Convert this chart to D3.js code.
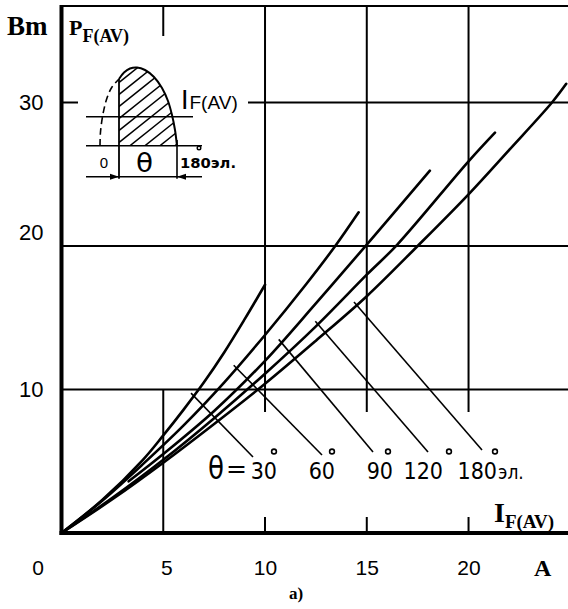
<!DOCTYPE html>
<html>
<head>
<meta charset="utf-8">
<script src="https://cdn.jsdelivr.net/npm/d3@7"></script>
<style>
  body { margin: 0; background: #fff; }
  svg { display: block; }
</style>
</head>
<body>
<svg id="chart" width="568" height="609"></svg>
<script>
// Average forward power loss P_F(AV) (W) vs. average forward current I_F(AV) (A)
// for several conduction angles θ (electrical degrees).
const angleLabels = ["30", "60", "90", "120", "180"];
const xTicks = [0, 5, 10, 15, 20];
const yTicks = [10, 20, 30];

// [I_F(AV), P_F(AV)]
const curve30  = [[0,0],[2,2.3],[4,5.1],[5,6.8],[6,8.6],[7,10.5],[8,12.6],[9,14.9],[10,17.3]];
const curve60  = [[0,0],[2,2.25],[4,4.8],[6,7.5],[8,10.5],[10,13.8],[12,17.3],[13.45,20.0],[14.6,22.35]];
const curve90  = [[3.3,3.6],[5,5.5],[7.5,8.5],[10,12.0],[12.5,16.0],[15,20.1],[18.1,25.25]];
const curve120 = [[0,0],[2.5,2.45],[5,5.1],[7.5,8.0],[10,11.1],[12.5,14.4],[15,18.0],[16.5,20.1],[20,25.9],[21.3,27.9]];
const curve180 = [[0,0],[2.5,2.35],[5,4.9],[7.5,7.6],[10,10.4],[12.5,13.4],[15,16.5],[17.5,20.0],[20,23.6],[22,26.7],[24.1,30.0],[24.8,31.3]];
const curves = [curve30, curve60, curve90, curve120, curve180];

const svg = d3.select("#chart");
const W = 568;
const x = d3.scaleLinear().domain([0, 25]).range([61.5, 570.3]);
const y = d3.scaleLinear().domain([0, 30]).range([533, 102.5]);

const sans = "'Liberation Sans', Arial, sans-serif";
const cond = "'DejaVu Sans Condensed', 'DejaVu Sans', sans-serif";
const serif = "'Liberation Serif', 'Times New Roman', serif";

function seg(g, x1, y1, x2, y2, w) {
  g.append("line").attr("x1", x1).attr("y1", y1).attr("x2", x2).attr("y2", y2)
    .attr("stroke", "#000").attr("stroke-width", w || 2);
}

// ---- grid ----
const grid = svg.append("g");
const frameTop = 6;
seg(grid, x(0), frameTop, W, frameTop, 2);
[10, 20].forEach(v => seg(grid, x(0), y(v), W, y(v), 2));
seg(grid, 248, y(30), W, y(30), 2);
seg(grid, x(0), y(30), 78, y(30), 2);
[10, 15, 20].forEach(v => {
  seg(grid, x(v), frameTop, x(v), 412, 2);
  seg(grid, x(v), 517, x(v), y(0), 2);
});
seg(grid, x(5), y(10), x(5), y(0), 2);
seg(grid, x(5), frameTop, x(5), 36, 2);

// ---- axes ----
seg(svg, x(0), frameTop - 1, x(0), y(0) + 2, 4);
seg(svg, x(0) - 2, y(0), W, y(0), 4);

const yAxis = svg.append("g").attr("transform", `translate(${x(0)},0)`)
  .call(d3.axisLeft(y).tickValues(yTicks).tickSize(0).tickPadding(18));
yAxis.select(".domain").remove();
yAxis.selectAll("text").attr("font-family", sans).attr("font-size", 22).attr("fill", "#000")
  .attr("dy", d => d === 20 ? "-0.28em" : "0.34em");

const xAxis = svg.append("g").attr("transform", `translate(0,${y(0)})`)
  .call(d3.axisBottom(x).tickValues(xTicks).tickSize(0).tickPadding(27));
xAxis.select(".domain").remove();
xAxis.selectAll("text").attr("font-family", sans).attr("font-size", 21).attr("fill", "#000")
  .attr("dx", d => d === 0 ? -24 : (d === 5 ? 3 : 0));

// unit and axis titles
svg.append("text").attr("x", 534).attr("y", 576).attr("font-family", serif)
  .attr("font-weight", "bold").attr("font-size", 24).text("A");
svg.append("text").attr("x", 296).attr("y", 599).attr("text-anchor", "middle")
  .attr("font-family", serif).attr("font-weight", "bold").attr("font-size", 17).text("a)");
svg.append("text").attr("x", 7).attr("y", 35).attr("font-family", serif)
  .attr("font-weight", "bold").attr("font-size", 27).text("Bm");
const pt = svg.append("text").attr("x", 69).attr("y", 35).attr("font-family", serif)
  .attr("font-weight", "bold").attr("font-size", 22);
pt.append("tspan").text("P");
pt.append("tspan").attr("font-size", 18).attr("dy", 7).text("F(AV)");
const it = svg.append("text").attr("x", 494).attr("y", 522).attr("font-family", serif)
  .attr("font-weight", "bold").attr("font-size", 28);
it.append("tspan").text("I");
it.append("tspan").attr("font-size", 19).attr("dy", 6).text("F(AV)");

// ---- curves ----
const line = d3.line().x(d => x(d[0])).y(d => y(d[1])).curve(d3.curveCatmullRom.alpha(0.5));
svg.append("g").selectAll("path").data(curves).join("path")
  .attr("d", line).attr("fill", "none").attr("stroke", "#000")
  .attr("stroke-width", 2.6).attr("stroke-linecap", "round");

// ---- leaders from each curve to its angle label ----
function valueAt(c, i) {
  for (let k = 1; k < c.length; k++) {
    if (i <= c[k][0]) {
      const a = c[k - 1], b = c[k];
      return a[1] + (b[1] - a[1]) * (i - a[0]) / (b[0] - a[0]);
    }
  }
  return c[c.length - 1][1];
}
const leaderAt = [6.5, 8.6, 10.8, 12.6, 14.5];
const leaderEnd = [[253, 457], [322, 455], [373, 452], [428, 452], [482, 450]];
const lead = svg.append("g");
curves.forEach((c, k) => {
  const sx = x(leaderAt[k]), sy = y(valueAt(c, leaderAt[k]));
  const [ex, ey] = leaderEnd[k];
  const len = Math.hypot(ex - sx, ey - sy);
  const ux = (ex - sx) / len, uy = (ey - sy) / len;
  seg(lead, sx - ux * 4, sy - uy * 4, ex, ey, 1.6);
});

// ---- angle labels ----
const lab = svg.append("g").attr("font-family", cond).attr("font-size", 23).attr("fill", "#000");
lab.append("text").attr("x", 208).attr("y", 479).attr("font-size", 32)
  .attr("textLength", 16).attr("lengthAdjust", "spacingAndGlyphs").text("θ");
lab.append("text").attr("x", 226).attr("y", 477).attr("textLength", 21)
  .attr("lengthAdjust", "spacingAndGlyphs").text("=");
const numEnd = [277, 335, 393, 443, 497];
const degX = [274, 332, 388, 449, 495];
angleLabels.forEach((t, k) => {
  lab.append("text").attr("x", numEnd[k]).attr("y", 479).attr("text-anchor", "end").text(t);
  lab.append("circle").attr("cx", degX[k]).attr("cy", 451.5).attr("r", 2.4)
    .attr("fill", "none").attr("stroke", "#000").attr("stroke-width", 1.6);
});
lab.append("text").attr("x", 498).attr("y", 479).attr("font-size", 19).text("эл.");

// ---- inset: conduction-angle sketch ----
const inset = svg.append("g");
const base = 145.7, level = 116.7, dim = 176.7;
const humpLeft = [[100,146],[100.5,132],[103,114],[107,98],[112,87],[119,79]];
const humpRight = [[119,79],[124,72.5],[130,68.5],[137,67.5],[145,70],[154,77],[162,88],[168,101],[172,115],[175,130],[177,146]];
const hl = d3.line().curve(d3.curveCatmullRom.alpha(0.5));
svg.append("clipPath").attr("id", "hump")
  .append("path").attr("d", hl(humpRight) + `L119,${base}Z`);
const hatch = inset.append("g").attr("clip-path", "url(#hump)");
for (let k = -6; k < 12; k++) {
  const y0 = base + 4 - k * 12;
  seg(hatch, 110, y0, 190, y0 - 64, 1.5);
}
inset.append("path").attr("d", hl(humpRight)).attr("fill", "none")
  .attr("stroke", "#000").attr("stroke-width", 2);
inset.append("path").attr("d", hl(humpLeft)).attr("fill", "none")
  .attr("stroke", "#000").attr("stroke-width", 1.6).attr("stroke-dasharray", "7,4");
seg(inset, 86, base, 202, base, 1.6);
seg(inset, 86, level, 193, level, 1.6);
seg(inset, 119, 79, 119, dim + 2, 1.8);
seg(inset, 177, 140, 177, dim + 2, 1.6);
seg(inset, 86, dim, 202, dim, 1.4);
// dimension arrows
inset.append("path").attr("d", `M119,${dim}l-9,-3v6Z`).attr("fill", "#000");
inset.append("path").attr("d", `M177,${dim}l9,-3v6Z`).attr("fill", "#000");
inset.append("text").attr("x", 104).attr("y", 168).attr("text-anchor", "middle")
  .attr("font-family", sans).attr("font-size", 15).text("0");
inset.append("text").attr("x", 136).attr("y", 172).attr("font-family", cond)
  .attr("font-size", 27).attr("textLength", 17).attr("lengthAdjust", "spacingAndGlyphs").text("θ");
inset.append("text").attr("x", 180).attr("y", 168).attr("font-family", cond)
  .attr("font-size", 14).attr("font-weight", "bold").attr("textLength", 56)
  .attr("lengthAdjust", "spacingAndGlyphs").text("180эл.");
inset.append("circle").attr("cx", 199).attr("cy", 148).attr("r", 1.8)
  .attr("fill", "none").attr("stroke", "#000").attr("stroke-width", 1.4);
const ii = inset.append("text").attr("x", 181).attr("y", 109).attr("font-family", sans);
ii.append("tspan").attr("font-size", 27).text("I");
ii.append("tspan").attr("font-size", 19).attr("dx", 1).text("F(AV)");
</script>
</body>
</html>
